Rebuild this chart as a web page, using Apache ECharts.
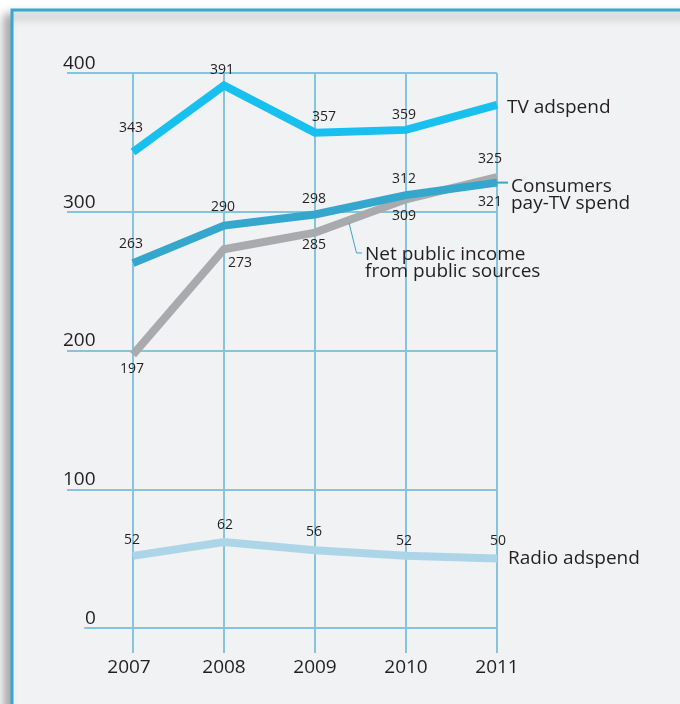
<!DOCTYPE html>
<html><head><meta charset="utf-8">
<script src="https://cdn.jsdelivr.net/npm/echarts@6/dist/echarts.min.js"></script>
<style>html,body{margin:0;padding:0;background:#fff}#c{width:680px;height:704px}</style>
</head><body><div id="c"></div>
<script>
// ---- data ----
const years = [2007, 2008, 2009, 2010, 2011];
const yTicks = [0, 100, 200, 300, 400];
const tvAdspend = [343, 391, 357, 359, 377];
const payTV = [263, 290, 298, 312, 321];
const netPublic = [197, 273, 285, 309, 325];
const radioAdspend = [52, 62, 56, 52, 50];
const seriesNames = {
  tv: 'TV adspend',
  pay: 'Consumers\npay-TV spend',
  net: 'Net public income\nfrom public sources',
  radio: 'Radio adspend'
};

// ---- styles ----
const FONT = "'Open Sans', 'Noto Sans', sans-serif";
const TXT = '#231f20';
const GRIDC = '#86c4dd';
const tvOff = [[-2,-24],[-2,-15],[9,-16],[-2,-15],null];
const payOff = [[-2,-19],[-1,-19],[-1,-16],[-2,-16],[-7,19]];
const netOff = [[-1,14],[16,14],[-1,12],[-2,17],[-7,-18]];
const radioOff = [[-1,-16],[1,-17],[-1,-18],[-2,-15],[1,-18]];

function mkSeries(name, vals, color, offs, z) {
  return {
    type: 'line', name, xAxisIndex: 1, yAxisIndex: 1, z,
    data: vals.map((v, i) => ({
      value: [years[i], v],
      label: offs[i] ? { offset: offs[i] } : { show: false }
    })),
    symbol: 'circle', symbolSize: 1,
    itemStyle: { color: 'rgba(0,0,0,0)', borderWidth: 0 },
    lineStyle: { color, width: 8, cap: 'butt', join: 'miter' },
    label: {
      show: true, position: 'inside', color: TXT, fontFamily: FONT, fontSize: 14,
      align: 'center', verticalAlign: 'middle',
      formatter: p => String(p.value[1])
    },
    emphasis: { disabled: true },
    animation: false, clip: false, silent: true
  };
}

const chart = echarts.init(document.getElementById('c'));
chart.setOption({
  backgroundColor: '#ffffff',
  animation: false,
  grid: [
    { left: 67, right: 183, top: 73, bottom: 76 },
    { left: 133, right: 183, top: 73, bottom: 51 },
    { left: 85, right: 183, top: 73, bottom: 76 }
  ],
  xAxis: [
    { gridIndex: 0, type: 'value', min: 0, max: 1, show: false },
    {
      gridIndex: 1, type: 'value', min: years[0], max: years[years.length - 1], interval: 1,
      axisLine: { show: false }, axisTick: { show: false },
      splitLine: { show: true, lineStyle: { color: GRIDC, width: 2 } },
      axisLabel: {
        color: TXT, fontFamily: FONT, fontSize: 19, margin: 5,
        showMinLabel: true, showMaxLabel: true,
        formatter: v => v === years[0] ? '{a|' + v + '}' : String(v),
        rich: { a: { color: TXT, fontFamily: FONT, fontSize: 19, padding: [0, 8, 0, 0] } }
      }
    },
    {
      gridIndex: 2, type: 'value', min: 0, max: 1,
      axisLine: { show: true, onZero: false, lineStyle: { color: GRIDC, width: 2 } },
      axisTick: { show: false }, axisLabel: { show: false }, splitLine: { show: false }
    }
  ],
  yAxis: [
    {
      gridIndex: 0, type: 'value', min: yTicks[0], max: yTicks[yTicks.length - 1], interval: 100,
      axisLine: { show: false }, axisTick: { show: false },
      splitLine: { show: true, lineStyle: { color: ['rgba(0,0,0,0)', GRIDC, GRIDC, GRIDC, GRIDC], width: 2 } },
      axisLabel: {
        inside: true, margin: -4, align: 'left', verticalAlign: 'bottom',
        color: TXT, fontFamily: FONT, fontSize: 19,
        showMinLabel: true, showMaxLabel: true,
        formatter: v => v === 0 ? '{z|0}' : String(v),
        rich: { z: { color: TXT, fontFamily: FONT, fontSize: 19, padding: [0, 0, 0, 22] } }
      }
    },
    { gridIndex: 1, type: 'value', min: -18.02, max: 400, show: false },
    { gridIndex: 2, type: 'value', min: 0, max: 400, show: false }
  ],
  graphic: [{
    type: 'rect', z: -10, silent: true,
    shape: { x: 12, y: 10, width: 720, height: 740 },
    style: { fill: '#f1f2f4', stroke: '#38a6cf', lineWidth: 3,
      shadowBlur: 10, shadowOffsetX: -6, shadowOffsetY: 6, shadowColor: 'rgba(0,0,0,0.35)' }
  }],
  series: [
    mkSeries('radio', radioAdspend, '#acd6e8', radioOff, 3),
    mkSeries('net', netPublic, '#a9aaae', netOff, 4),
    mkSeries('pay', payTV, '#35a7cc', payOff, 5),
    mkSeries('tv', tvAdspend, '#17c0ef', tvOff, 6)
  ]
});

function px(x, y) { return chart.convertToPixel({ gridIndex: 1 }, [x, y]); }
const last = years.length - 1;
const pTV = px(years[last], tvAdspend[last]);
const pPay = px(years[last], payTV[last]);
const pRadio = px(years[last], radioAdspend[last]);
const pNet = px(years[2], netPublic[2]);
function txt(text, x, y) {
  return { type: 'text', silent: true, z: 20, x, y,
    style: { text, fill: TXT, fontFamily: FONT, fontSize: 19, lineHeight: 17,
      align: 'left', verticalAlign: 'middle' } };
}
chart.setOption({
  graphic: [
    { type: 'rect', z: -10, silent: true,
      shape: { x: 12, y: 10, width: 720, height: 740 },
      style: { fill: '#f1f2f4', stroke: '#38a6cf', lineWidth: 3,
        shadowBlur: 10, shadowOffsetX: -6, shadowOffsetY: 6, shadowColor: 'rgba(0,0,0,0.35)' } },
    txt(seriesNames.tv, pTV[0] + 10, pTV[1] + 3),
    txt(seriesNames.radio, pRadio[0] + 11, pRadio[1]),
    txt(seriesNames.pay, pPay[0] + 14, pPay[1] + 12),
    txt(seriesNames.net, pNet[0] + 50, pNet[1] + 30.5),
    { type: 'line', silent: true, z: 20,
      shape: { x1: pPay[0], y1: pPay[1], x2: pPay[0] + 11, y2: pPay[1] },
      style: { stroke: '#35a7cc', lineWidth: 2 } },
    { type: 'polyline', silent: true, z: 20,
      shape: { points: [[pNet[0] + 34, pNet[1] - 9.6], [pNet[0] + 41.5, pNet[1] + 20.4], [pNet[0] + 47, pNet[1] + 20.4]] },
      style: { stroke: '#35a7cc', lineWidth: 1, fill: null } }
  ]
}, { replaceMerge: ['graphic'] });
</script></body></html>
